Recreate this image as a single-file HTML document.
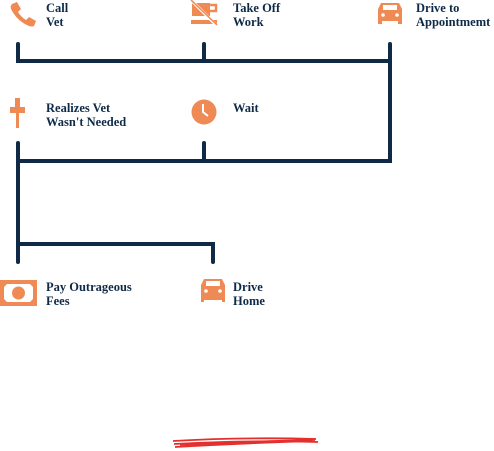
<!DOCTYPE html>
<html><head><style>
body{margin:0;width:494px;height:451px;background:#fff;position:relative;overflow:hidden;font-family:"Liberation Serif",serif;}
.t{position:absolute;font-weight:bold;color:#0f2a47;font-size:12.5px;line-height:14px;letter-spacing:0px;}
svg{position:absolute;left:0;top:0;}
</style></head><body>
<svg width="494" height="451">
<g stroke="#0f2a47" stroke-width="4" fill="none" stroke-linecap="round" stroke-linejoin="miter">
<path d="M18 44 V61 H390"/><path d="M204 44 V61"/><path d="M390 44 V161 H18"/>
<path d="M18 143 V262"/><path d="M204 143 V161"/>
<path d="M18 244 H213 V262"/>
</g>
<g fill="#ef8a54">
<path d="M12 4 l5-2 4 7-3 3 q3 5 8 8 l3-3 7 4-2 5 q-2 1-5 0 q-12-5-18-17 q-1-3 1-5z"/>
<rect x="192" y="3" width="18" height="13"/><rect x="208" y="5" width="8" height="6" fill="none" stroke="#ef8a54" stroke-width="2.5"/>
<rect x="191" y="20" width="26" height="4"/>
<path d="M192 1 L216 25" stroke="#fff" stroke-width="3"/><path d="M191 0 L217 25" stroke="#ef8a54" stroke-width="1.5"/>
<path d="M378 9 l3-6 h18 l3 6 v15 h-4 v-3 h-16 v3 h-4z"/><rect x="383" y="5" width="14" height="5" fill="#fff"/>
<circle cx="383" cy="15" r="1.8" fill="#fff"/><circle cx="397" cy="15" r="1.8" fill="#fff"/>
<rect x="10" y="107" width="15" height="6"/><rect x="15" y="98" width="5" height="10"/><rect x="16" y="112" width="3" height="16"/>
<circle cx="204" cy="112" r="12.5"/><path d="M203 104 V112 L208 116" stroke="#fff" stroke-width="2" fill="none"/>
<rect x="0" y="280" width="37" height="26"/><path d="M7 284 h23 l3 3 v12 l-3 3 h-23 l-3-3 v-12z" fill="#fff"/>
<circle cx="18.5" cy="293" r="6.5"/>
<path d="M201 285 l3-6 h18 l3 6 v17 h-3 v-2 h-18 v2 h-3z"/><rect x="206" y="281" width="14" height="5" fill="#fff"/>
<circle cx="206" cy="291" r="1.8" fill="#fff"/><circle cx="220" cy="291" r="1.8" fill="#fff"/>
</g>
<g stroke="#e3302f" stroke-width="1.8" fill="none">
<path d="M173 441 Q240 437 316 439"/><path d="M174 444 Q250 440 318 442"/><path d="M175 447 Q245 443 312 441"/><path d="M180 445 Q260 441 315 440"/>
</g>
</svg>
<div class="t" style="left:46px;top:1px">Call<br>Vet</div>
<div class="t" style="left:233px;top:1px">Take Off<br>Work</div>
<div class="t" style="left:416px;top:1px">Drive to<br>Appointmemt</div>
<div class="t" style="left:46px;top:101px">Realizes Vet<br>Wasn't Needed</div>
<div class="t" style="left:233px;top:101px">Wait</div>
<div class="t" style="left:46px;top:280px">Pay Outrageous<br>Fees</div>
<div class="t" style="left:233px;top:280px">Drive<br>Home</div>
</body></html>
